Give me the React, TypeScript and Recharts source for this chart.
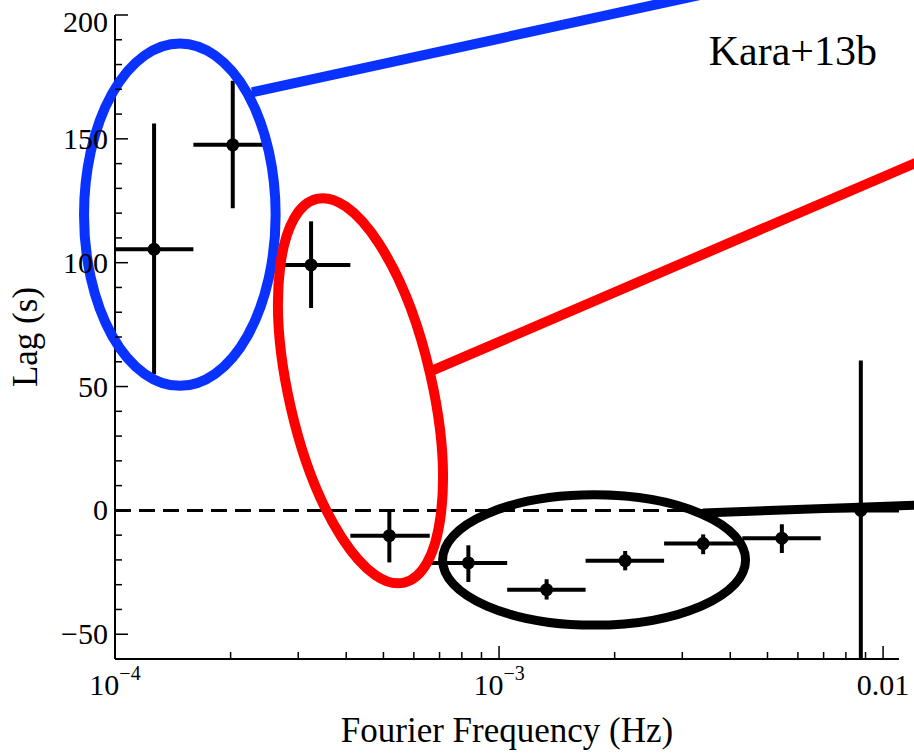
import { ScatterChart, Scatter, XAxis, YAxis, ErrorBar, ReferenceLine, Label } from 'recharts';

const FONT = '"Liberation Serif", "Times New Roman", serif';

// lag-frequency spectrum: bin edges (Hz), bin centres and lags (s)
const binLow = [1.0e-4, 1.6e-4, 2.56e-4, 4.1e-4, 6.6e-4, 1.05e-3, 1.68e-3, 2.69e-3, 4.3e-3, 6.88e-3];
const binHigh = [1.6e-4, 2.56e-4, 4.1e-4, 6.6e-4, 1.05e-3, 1.68e-3, 2.69e-3, 4.3e-3, 6.88e-3, 1.1e-2];
const freq = [1.264e-4, 2.026e-4, 3.24e-4, 5.18e-4, 8.32e-4, 1.33e-3, 2.13e-3, 3.4e-3, 5.45e-3, 8.75e-3];
const lag = [105.4, 147.6, 99.1, -10.2, -21.2, -32.0, -20.3, -13.4, -11.2, 0.0];
const lagLow = [55, 122, 81.7, -21, -28.9, -36.0, -24.2, -17.7, -17.2, -60];
const lagHigh = [156.2, 173.5, 116.7, -0.6, -14.1, -27.8, -16.4, -9.7, -5.6, 60.5];

const xTicks = [
  1e-4, 2e-4, 3e-4, 4e-4, 5e-4, 6e-4, 7e-4, 8e-4, 9e-4,
  1e-3, 2e-3, 3e-3, 4e-3, 5e-3, 6e-3, 7e-3, 8e-3, 9e-3, 1e-2,
];
const xMajor = [1e-4, 1e-3, 1e-2];
const xMajorText = [['10', '\u22124'], ['10', '\u22123'], ['0.01', '']];
const yTicks = [-60, -50, -40, -30, -20, -10, 0, 10, 20, 30, 40, 50, 60, 70, 80, 90, 100,
  110, 120, 130, 140, 150, 160, 170, 180, 190, 200];
const yMajor = [-50, 0, 50, 100, 150, 200];

// highlighted groups: centre of each ring and where its pointer line runs
const ringFreq = [1.475e-4, 4.357e-4, 1.768e-3];
const ringLag = [119.4, 48.3, -20.0];
const ringColor = ['#0a32ff', '#ff0000', '#000000'];
const linkStart = [[2.275e-4, 168.8], [6.74e-4, 56.6], [3.397e-3, -1.05]];
const linkEnd = [[1.2e-2, 226.8], [1.25e-2, 141.1], [1.25e-2, 2.14]];

// ring sizes in px (rx, ry, rotation, stroke)
const ringStyle = [
  { rx: 95.8, ry: 171.2, rot: 0, sw: 10 },
  { rx: 71.7, ry: 196.8, rot: -12.8, sw: 10 },
  { rx: 151.5, ry: 65.2, rot: 0, sw: 9 },
];
const linkWidth = [10, 10, 9];

const points = freq.map((f, i) => ({
  f,
  lag: lag[i],
  xErr: [f - binLow[i], binHigh[i] - f],
  yErr: [lag[i] - lagLow[i], lagHigh[i] - lag[i]],
}));

const rings = ringFreq.map((f, i) => ({ f, lag: ringLag[i], idx: i }));

const fmtY = (v: number) => (v < 0 ? `\u2212${-v}` : `${v}`);

function BottomTick(props: any) {
  const { x, y, payload } = props;
  const k = xMajor.indexOf(payload.value);
  const major = k >= 0;
  return (
    <g>
      <line x1={x} y1={y} x2={x} y2={y - (major ? 13 : 7)} stroke="#000" strokeWidth={1.5} />
      {major && (
        <text x={x} y={y + 36} textAnchor="middle" fontSize={30} fontFamily={FONT} fill="#000">
          {xMajorText[k][0]}
          {xMajorText[k][1] && (
            <tspan dy={-15} fontSize={20}>
              {xMajorText[k][1]}
            </tspan>
          )}
        </text>
      )}
    </g>
  );
}

function TopTick(props: any) {
  const { x, y, payload } = props;
  const major = xMajor.includes(payload.value);
  return <line x1={x} y1={y} x2={x} y2={y + (major ? 14 : 7)} stroke="#000" strokeWidth={1.5} />;
}

function LeftTick(props: any) {
  const { x, y, payload } = props;
  const v = payload.value;
  const major = yMajor.includes(v);
  return (
    <g>
      <line x1={x} y1={y} x2={x + (major ? 13 : 7)} y2={y} stroke="#000" strokeWidth={1.5} />
      {major && (
        <text x={x - 7} y={Math.max(y + 10, 32)} textAnchor="end" fontSize={30} fontFamily={FONT} fill="#000">
          {fmtY(v)}
        </text>
      )}
    </g>
  );
}

function RightTick(props: any) {
  const { x, y, payload } = props;
  const major = yMajor.includes(payload.value);
  return <line x1={x} y1={y} x2={x - (major ? 13 : 7)} y2={y} stroke="#000" strokeWidth={1.5} />;
}

const Dot = (p: any) => <circle cx={p.cx} cy={p.cy} r={6.5} fill="#000" />;

const Ring = (p: any) => {
  const i = p.payload.idx;
  const s = ringStyle[i];
  return (
    <ellipse
      cx={p.cx}
      cy={p.cy}
      rx={s.rx}
      ry={s.ry}
      transform={`rotate(${s.rot} ${p.cx} ${p.cy})`}
      fill="none"
      stroke={ringColor[i]}
      strokeWidth={s.sw}
    />
  );
};

const axisLine = { stroke: '#000', strokeWidth: 2 };

export default function App() {
  return (
    <div style={{ position: 'absolute', left: 0, top: 0, background: '#fff' }}>
      <ScatterChart width={914} height={756} margin={{ top: 15, right: 15, bottom: 0, left: 0 }}>
        <XAxis
          dataKey="f"
          type="number"
          scale="log"
          domain={[1e-4, 0.011]}
          allowDataOverflow
          ticks={xTicks}
          interval={0}
          tickSize={0}
          tickMargin={0}
          tickLine={false}
          axisLine={axisLine}
          tick={<BottomTick />}
          height={97}
        >
          <Label
            content={(p: any) => (
              <g>
                <text
                  x={p.viewBox.x + p.viewBox.width / 2}
                  y={p.viewBox.y + 83}
                  textAnchor="middle"
                  fontSize={35}
                  fontFamily={FONT}
                  fill="#000"
                >
                  Fourier Frequency (Hz)
                </text>
                {/* source tag in the upper-right corner of the frame */}
                <text
                  x={p.viewBox.x + p.viewBox.width - 22}
                  y={p.viewBox.y - 594}
                  textAnchor="end"
                  fontSize={42}
                  fontFamily={FONT}
                  fill="#000"
                >
                  Kara+13b
                </text>
              </g>
            )}
          />
        </XAxis>
        <XAxis
          xAxisId="top"
          orientation="top"
          dataKey="f"
          type="number"
          scale="log"
          domain={[1e-4, 0.011]}
          ticks={xTicks}
          interval={0}
          tickSize={0}
          tickMargin={0}
          tickLine={false}
          axisLine={axisLine}
          tick={<TopTick />}
          height={0}
        />
        <YAxis
          dataKey="lag"
          type="number"
          domain={[-60, 200]}
          allowDataOverflow
          ticks={yTicks}
          interval={0}
          tickSize={0}
          tickMargin={0}
          tickLine={false}
          axisLine={axisLine}
          tick={<LeftTick />}
          width={115}
        >
          <Label
            content={(p: any) => {
              const cx = p.viewBox.x + 37;
              const cy = p.viewBox.y + p.viewBox.height / 2;
              return (
                <text
                  x={cx}
                  y={cy}
                  transform={`rotate(-90 ${cx} ${cy})`}
                  textAnchor="middle"
                  fontSize={35}
                  fontFamily={FONT}
                  fill="#000"
                >
                  Lag (s)
                </text>
              );
            }}
          />
        </YAxis>
        <YAxis
          yAxisId="right"
          orientation="right"
          dataKey="lag"
          type="number"
          domain={[-60, 200]}
          ticks={yTicks}
          interval={0}
          tickSize={0}
          tickMargin={0}
          tickLine={false}
          axisLine={axisLine}
          tick={<RightTick />}
          width={0}
        />

        <ReferenceLine y={0} stroke="#000" strokeWidth={3} strokeDasharray="16 8" />

        <Scatter data={points} shape={Dot} isAnimationActive={false}>
          <ErrorBar dataKey="xErr" direction="x" width={0} stroke="#000" strokeWidth={4} isAnimationActive={false} />
          <ErrorBar dataKey="yErr" direction="y" width={0} stroke="#000" strokeWidth={4} isAnimationActive={false} />
        </Scatter>

        {linkStart.map((s, i) => (
          <ReferenceLine
            key={i}
            xAxisId="top"
            yAxisId="right"
            segment={[{ x: s[0], y: s[1] }, { x: linkEnd[i][0], y: linkEnd[i][1] }]}
            stroke={ringColor[i]}
            strokeWidth={linkWidth[i]}
            ifOverflow="visible"
          />
        ))}

        <Scatter data={rings} xAxisId="top" yAxisId="right" shape={Ring} isAnimationActive={false} />
      </ScatterChart>
    </div>
  );
}
